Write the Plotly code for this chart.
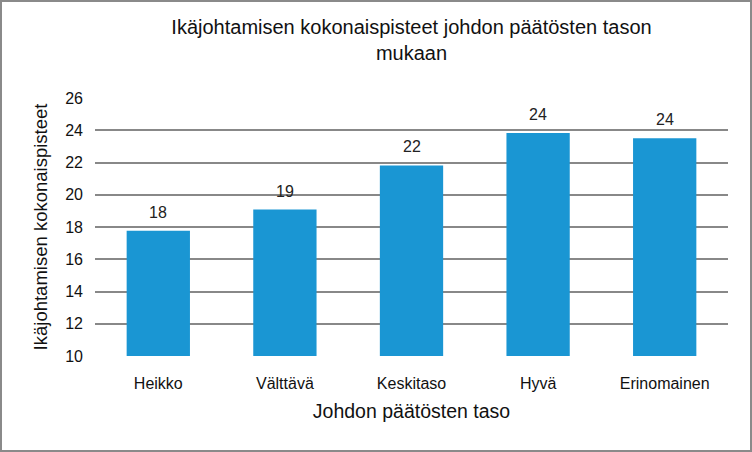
import plotly.graph_objects as go

categories = ["Heikko", "Välttävä", "Keskitaso", "Hyvä", "Erinomainen"]
values = [17.77, 19.08, 21.82, 23.83, 23.5]
labels = [str(round(v)) for v in values]

W, H = 752, 452
ML, MR, MT, MB = 95, 24, 98, 96
FONT = "Liberation Sans"

fig = go.Figure(go.Bar(
    x=categories, y=values,
    marker=dict(color="#1A96D3", line=dict(width=0)),
    cliponaxis=False,
))

for c, v, t in zip(categories, values, labels):
    fig.add_annotation(x=c, y=v, text=t, showarrow=False, yanchor="bottom", yshift=8,
                       font=dict(family=FONT, size=16, color="#222"))

pw = W - ML - MR
ph = H - MT - MB
fig.add_shape(type="rect", xref="paper", yref="paper",
              x0=(1 - ML) / pw, x1=(W - 1 - ML) / pw,
              y0=-(H - 1 - MT - ph) / ph, y1=(MT - 1) / ph + 1,
              line=dict(color="#8A8A8A", width=2), layer="above")

fig.update_layout(
    width=W, height=H,
    margin=dict(l=ML, r=MR, t=MT, b=MB),
    paper_bgcolor="white", plot_bgcolor="white",
    bargap=0.5,
    showlegend=False,
    title=dict(text="Ikäjohtamisen kokonaispisteet johdon päätösten tason<br>mukaan",
               x=0.5, xref="paper", xanchor="center", y=1 - 34 / H, yanchor="top",
               font=dict(family=FONT, size=20, color="#111")),
    font=dict(family=FONT, color="#111"),
)
fig.update_yaxes(range=[10, 26], dtick=2, showgrid=True, gridcolor="#888888", gridwidth=2,
                 zeroline=False, showline=False, ticks="", ticklabelstandoff=11,
                 tickfont=dict(family=FONT, size=16, color="#111"),
                 title=dict(text="Ikäjohtamisen kokonaispisteet", standoff=12,
                            font=dict(family=FONT, size=18.5, color="#111")))
fig.update_xaxes(showline=False, ticks="", showgrid=False,
                 tickfont=dict(family=FONT, size=16, color="#111"), ticklabelstandoff=16,
                 title=dict(text="Johdon päätösten taso", standoff=13,
                            font=dict(family=FONT, size=19.5, color="#111")))

fig.write_html("out.html")
